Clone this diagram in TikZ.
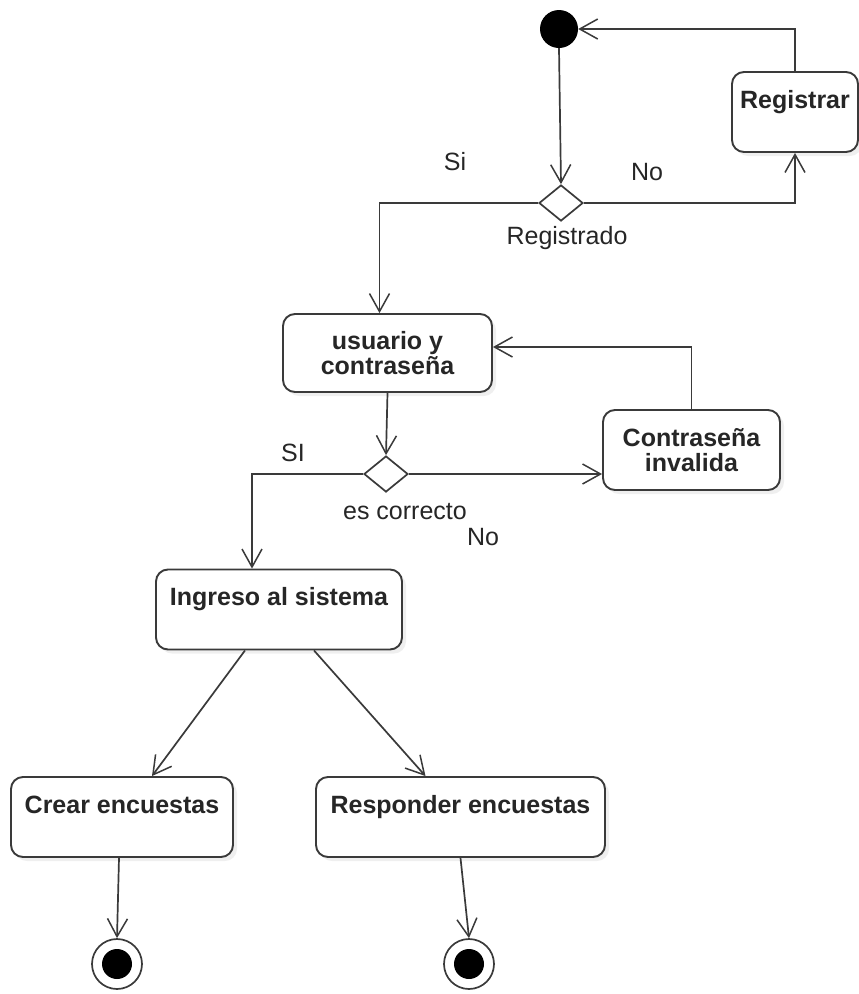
\documentclass[tikz,border=0pt]{standalone}
\usepackage{fontspec}
\setmainfont{Liberation Sans}
\usetikzlibrary{shapes.geometric, arrows.meta, positioning, shadows}
\definecolor{linegray}{HTML}{3A3A3A}
\definecolor{textgray}{HTML}{262626}

\begin{document}
\begin{tikzpicture}[x=1pt, y=-1pt,
    actbox/.style={rectangle, rounded corners=12pt, draw=linegray, line width=1.9pt, fill=white, drop shadow={shadow xshift=4pt, shadow yshift=-4pt, opacity=0.12}, text=textgray, font=\fontsize{25}{25}\selectfont\bfseries, align=center, inner sep=0pt},
    onetop/.style={text height=36pt, text depth=44pt},
    decision/.style={diamond, draw=linegray, line width=1.7pt, fill=white, minimum width=44pt, minimum height=36pt, inner sep=0pt},
    startnode/.style={circle, fill=black, minimum size=38pt, inner sep=0pt},
    endnode/.style={circle, draw=linegray, line width=1.7pt, fill=white, minimum size=50pt, inner sep=0pt, path picture={\fill[black] (path picture bounding box.center) circle (15pt);}},
    guard/.style={text=textgray, font=\fontsize{25}{25}\selectfont, inner sep=0pt},
    arrow/.style={-{Straight Barb[length=18pt, width=20pt, line width=1.5pt]}, line width=1.7pt, draw=linegray}
]
\fill[white] (0,0) rectangle (859,994);
\useasboundingbox (0,0) rectangle (859,994);

% Start and registration
\node[startnode] (start) at (559,29) {};
\node[actbox, onetop, minimum width=126pt] (registrar) at (795,112) {Registrar};
\node[decision] (registrado) at (561,203) {};

% Login
\node[actbox, minimum width=209pt, minimum height=78pt] (usuario) at (387.5,353) {usuario y\\contraseña};
\node[decision] (correcto) at (386,474) {};
\node[actbox, minimum width=177pt, minimum height=80pt] (invalida) at (691.5,450) {Contraseña\\invalida};

% System
\node[actbox, onetop, minimum width=246pt] (ingreso) at (279,609.5) {Ingreso al sistema};
\node[actbox, onetop, minimum width=222pt] (crear) at (122,817) {Crear encuestas};
\node[actbox, onetop, minimum width=289pt] (responder) at (460.5,817) {Responder encuestas};
\node[endnode] (finCrear) at (117,964) {};
\node[endnode] (finResp) at (469,964) {};

% Guards
\node[guard] (siReg) at (455,162) {Si};
\node[guard] (noReg) at (647,172) {No};
\node[guard] (lblReg) at (567,238) {Registrado};
\node[guard] (siPass) at (293,453) {SI};
\node[guard] (lblPass) at (405,512) {es correcto};
\node[guard] (noPass) at (483,537) {No};

% Arrows
\draw[arrow] (start.south) -- (registrado.north);
\draw[arrow] (registrado.east) -| (registrar.south);
\draw[arrow] (registrar.north) |- (start.east);
\draw[arrow] (registrado.west) -| ([xshift=-8pt]usuario.north);
\draw[arrow] (usuario.south) -- (correcto.north);
\draw[arrow] (correcto.east) -- (correcto.east -| invalida.west);
\draw[arrow] (invalida.north) |- ([yshift=6pt]usuario.east);
\draw[arrow] (correcto.west) -| ([xshift=-27pt]ingreso.north);
\draw[arrow] ([xshift=-34pt]ingreso.south) -- ([xshift=30pt]crear.north);
\draw[arrow] ([xshift=35pt]ingreso.south) -- ([xshift=-35pt]responder.north);
\draw[arrow] ([xshift=-3pt]crear.south) -- (finCrear.north);
\draw[arrow] (responder.south) -- (finResp.north);

\end{tikzpicture}
\end{document}
